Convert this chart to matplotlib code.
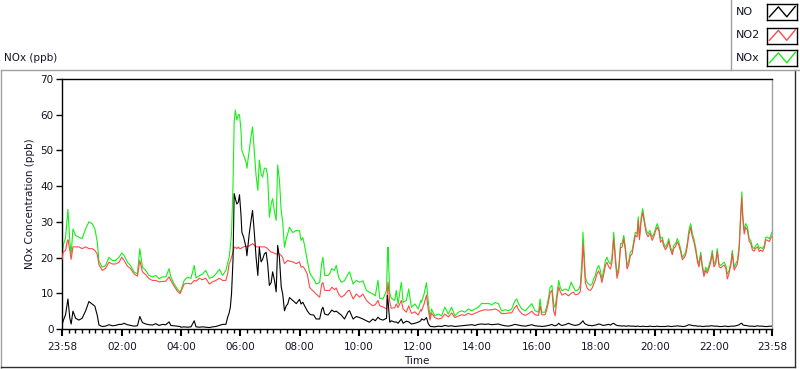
import matplotlib
matplotlib.use("Agg")
import matplotlib.pyplot as plt
from matplotlib.lines import Line2D

plt.rcParams['font.family'] = ['DejaVu Sans']

# hours elapsed since 23:58
hours = [
    0.00, 0.04, 0.12, 0.175, 0.20, 0.265, 0.31, 0.37, 0.46, 0.57, 0.68, 0.80, 0.91, 1.02, 1.11, 1.19, 1.25, 1.36, 1.47, 1.59, 1.70, 1.81, 1.93, 2.02, 2.10, 2.21, 2.32, 2.44, 2.55, 2.63, 2.72, 2.83, 2.94, 3.06, 3.17, 3.28, 3.40, 3.51, 3.62, 3.68, 3.79, 3.90, 3.99,
    4.02, 4.13, 4.24, 4.36, 4.47, 4.53, 4.64, 4.75, 4.86, 4.98, 5.09, 5.20, 5.32, 5.43, 5.54, 5.60, 5.65, 5.69, 5.73, 5.78, 5.82, 5.86, 5.91, 5.96, 6.00, 6.05, 6.08, 6.14, 6.22, 6.25, 6.33, 6.39, 6.44, 6.50, 6.56, 6.62, 6.67, 6.73, 6.78, 6.84, 6.90, 6.95, 7.01, 7.07, 7.12, 7.18, 7.24, 7.29, 7.35, 7.41, 7.46, 7.52, 7.58, 7.63, 7.69, 7.80, 7.92, 8.03,
    8.08, 8.14, 8.20, 8.29, 8.37, 8.42, 8.51, 8.59, 8.71, 8.78, 8.82, 8.88, 8.99, 9.05, 9.12, 9.21, 9.27, 9.35, 9.44, 9.55, 9.67, 9.72, 9.84, 9.95, 10.06, 10.17, 10.29, 10.39, 10.51, 10.59, 10.68, 10.74, 10.85, 10.97, 11.00, 11.02, 11.08, 11.13, 11.25, 11.30, 11.36, 11.47, 11.53, 11.64, 11.72, 11.81, 11.93, 12.04, 12.13,
    12.15, 12.24, 12.32, 12.38, 12.44, 12.49, 12.60, 12.72, 12.83, 12.94, 13.06, 13.17, 13.28, 13.40, 13.51, 13.62, 13.73, 13.85, 13.96, 14.07, 14.19, 14.30, 14.41, 14.53, 14.64, 14.75, 14.86, 14.98, 15.09, 15.20, 15.31, 15.37, 15.43, 15.54, 15.66, 15.77, 15.88, 15.99, 16.11, 16.16,
    16.22, 16.33, 16.39, 16.45, 16.50, 16.56, 16.62, 16.67, 16.73, 16.79, 16.84, 16.90, 17.01, 17.12, 17.21, 17.29, 17.35, 17.46, 17.52, 17.58, 17.61, 17.66, 17.69, 17.75, 17.80, 17.86, 17.92, 17.97, 18.03, 18.08, 18.14, 18.20, 18.25, 18.31, 18.37, 18.42, 18.48, 18.54, 18.59, 18.65, 18.71, 18.76, 18.82, 18.88, 18.93, 18.99, 19.05, 19.10, 19.16, 19.21, 19.27, 19.33, 19.38, 19.44, 19.48, 19.52, 19.58, 19.63, 19.69, 19.75, 19.81, 19.87, 19.95, 20.01, 20.06, 20.12, 20.18, 20.23, 20.29,
    20.34, 20.40, 20.46, 20.51, 20.57, 20.63, 20.68, 20.74, 20.80, 20.85, 20.91, 20.97, 21.02, 21.08, 21.14, 21.19, 21.25, 21.31, 21.36, 21.42, 21.48, 21.53, 21.59, 21.64, 21.70, 21.76, 21.81, 21.87, 21.93, 21.98, 22.04, 22.10, 22.15, 22.21, 22.27, 22.32, 22.38, 22.44, 22.49, 22.55, 22.61, 22.66, 22.72, 22.77, 22.83, 22.89, 22.94, 22.98, 23.01, 23.06, 23.11, 23.17, 23.23, 23.28, 23.34, 23.40, 23.45, 23.51, 23.57, 23.62, 23.68, 23.74, 23.79, 23.85, 23.91, 23.96, 24.00,
]

no = [
    1.0, 2.3, 4.0, 7.0, 8.4, 3.0, 1.4, 5.0, 3.0, 2.5, 3.0, 5.1, 7.7, 7.0, 6.4, 3.9, 1.1, 0.7, 0.8, 1.2, 0.9, 1.0, 1.3, 1.3, 1.6, 1.2, 1.0, 0.8, 0.9, 3.5, 1.8, 1.4, 1.2, 1.1, 1.5, 1.0, 1.3, 1.2, 2.0, 1.0, 0.9, 0.8, 0.7,
    0.5, 0.6, 0.5, 0.6, 2.3, 0.6, 0.5, 0.6, 0.5, 0.4, 0.6, 0.7, 1.0, 1.3, 1.3, 3.3, 4.5, 6.1, 9.8, 19.2, 37.9, 36.5, 35.0, 35.5, 37.6, 32.0, 27.1, 25.7, 22.9, 20.5, 26.7, 30.4, 33.2, 27.1, 20.1, 15.0, 22.9, 18.8, 19.5, 21.0, 21.5, 18.3, 12.2, 13.0, 16.0, 13.7, 10.4, 23.4, 20.0, 11.8, 9.8, 5.1, 6.5, 7.0, 8.8, 8.0, 7.1, 8.3,
    7.0, 7.5, 6.5, 5.1, 4.2, 4.0, 3.9, 2.8, 2.8, 5.5, 6.1, 4.2, 3.9, 4.5, 5.3, 4.8, 5.0, 4.5, 3.9, 2.8, 4.8, 5.1, 2.8, 3.5, 3.2, 2.8, 2.3, 1.9, 2.8, 2.3, 3.3, 2.8, 2.5, 3.0, 9.4, 8.0, 1.9, 2.3, 1.9, 2.0, 1.6, 2.8, 1.6, 2.2, 2.0, 1.4, 1.6, 1.9, 2.3,
    2.8, 2.5, 3.2, 1.5, 0.8, 0.7, 0.6, 0.8, 0.7, 1.0, 0.8, 0.9, 0.7, 0.8, 0.9, 1.0, 1.1, 1.2, 1.0, 1.3, 1.4, 1.3, 1.4, 1.2, 1.3, 1.4, 1.1, 0.9, 0.8, 1.0, 1.3, 1.2, 1.1, 0.9, 0.8, 1.0, 1.2, 0.9, 0.8, 0.8,
    0.7, 0.8, 0.9, 1.0, 1.1, 1.3, 1.0, 0.9, 1.1, 1.6, 1.2, 1.0, 1.2, 1.6, 1.3, 1.1, 1.0, 1.2, 1.5, 2.0, 2.3, 1.6, 1.4, 1.2, 1.0, 1.0, 0.9, 1.0, 1.1, 1.2, 1.4, 1.3, 1.1, 1.0, 1.1, 1.2, 1.3, 1.1, 1.4, 1.6, 1.2, 1.0, 0.9, 0.9, 0.8, 0.9, 0.8, 0.8, 0.9, 0.8, 0.8, 0.8, 0.7, 0.8, 0.8, 0.7, 0.7, 0.8, 0.7, 0.7, 0.7, 0.8, 0.7, 0.7, 0.7, 0.8, 0.7, 0.7, 0.7,
    0.7, 0.7, 0.8, 0.8, 0.7, 0.7, 0.8, 0.8, 0.9, 0.8, 0.8, 0.7, 0.7, 0.8, 1.0, 1.2, 1.1, 1.0, 0.9, 0.9, 0.8, 0.8, 0.8, 0.7, 0.7, 0.8, 0.8, 0.8, 0.9, 0.9, 0.8, 0.8, 0.8, 0.7, 0.7, 0.7, 0.8, 0.8, 0.7, 0.7, 0.8, 0.8, 0.8, 0.9, 1.0, 1.2, 1.5, 1.6, 1.2, 1.0, 1.0, 0.9, 0.8, 0.8, 0.8, 0.7, 0.8, 0.9, 0.8, 0.8, 0.8, 0.7, 0.7, 0.7, 0.8, 0.8, 0.8,
]

no2 = [
    19.5, 21.5, 22.0, 24.5, 25.0, 22.0, 19.5, 23.0, 23.0, 23.0, 22.5, 23.0, 22.5, 22.5, 22.0, 21.0, 18.0, 16.4, 17.0, 18.7, 18.2, 18.2, 18.7, 20.1, 19.2, 17.6, 16.9, 15.4, 14.8, 19.2, 16.0, 15.2, 14.1, 13.6, 13.6, 13.2, 13.3, 13.4, 14.6, 13.6, 12.0, 10.6, 9.9,
    10.5, 12.6, 12.8, 12.6, 13.6, 13.4, 14.2, 13.8, 14.2, 12.6, 13.2, 13.6, 14.2, 13.6, 13.6, 15.5, 18.3, 19.0, 20.1, 21.5, 22.9, 22.9, 22.5, 23.0, 22.5, 22.5, 22.8, 23.0, 23.2, 23.0, 23.3, 23.6, 23.9, 23.5, 23.0, 23.0, 23.0, 23.0, 23.0, 23.0, 22.8, 22.5, 22.0, 21.5, 21.5, 21.2, 21.0, 21.0, 21.0, 20.6, 20.0, 18.3, 18.8, 19.2, 19.0, 18.8, 18.3, 18.8,
    17.3, 17.5, 16.9, 15.4, 11.7, 11.2, 10.5, 9.8, 8.9, 12.6, 13.0, 10.8, 10.8, 10.8, 11.7, 11.0, 11.5, 9.8, 8.9, 9.5, 10.8, 10.8, 8.4, 9.8, 8.9, 9.8, 8.0, 7.2, 6.5, 6.8, 8.0, 6.5, 6.2, 5.6, 11.0, 13.1, 7.5, 5.8, 6.0, 7.0, 6.0, 8.0, 5.6, 4.7, 6.5, 4.4, 4.8, 3.9, 5.5,
    5.0, 7.0, 9.5, 5.5, 2.5, 4.5, 3.2, 2.8, 3.0, 4.2, 3.4, 4.5, 3.2, 3.6, 4.0, 3.8, 4.4, 4.0, 4.4, 4.8, 5.2, 5.4, 5.3, 5.4, 5.6, 5.2, 4.3, 4.3, 4.5, 4.5, 6.1, 6.6, 5.4, 4.3, 3.8, 4.3, 5.0, 4.0, 3.8, 6.5,
    4.0, 4.0, 5.5, 7.8, 10.2, 10.8, 5.0, 3.7, 8.5, 11.8, 10.5, 9.5, 10.0, 9.3, 10.0, 10.3, 9.6, 9.8, 10.5, 17.0, 24.0, 17.5, 13.0, 11.5, 11.0, 10.8, 11.5, 12.5, 13.8, 15.4, 16.3, 15.0, 13.0, 15.2, 17.8, 18.7, 17.4, 16.8, 18.6, 25.3, 18.6, 14.2, 16.2, 22.8, 22.9, 25.2, 21.5, 16.8, 18.1, 20.5, 21.0, 23.8, 26.2, 25.8, 30.4, 25.0, 30.5, 32.6, 29.5, 26.8, 25.8, 26.8, 24.8, 25.9, 27.4, 28.5, 27.4, 24.3, 25.0,
    23.2, 22.2, 23.1, 24.5, 22.2, 20.8, 22.6, 23.1, 24.4, 23.5, 21.7, 19.4, 19.9, 20.7, 23.3, 26.4, 28.4, 25.7, 24.4, 22.0, 18.8, 17.4, 20.7, 17.5, 14.7, 16.5, 15.6, 17.0, 18.7, 21.1, 17.4, 18.4, 21.7, 17.5, 17.1, 17.5, 17.9, 17.0, 14.0, 15.7, 17.9, 21.2, 16.5, 17.3, 18.2, 22.2, 30.8, 36.8, 31.1, 26.6, 28.5, 27.7, 24.5, 24.0, 22.1, 21.8, 22.6, 23.0, 21.7, 22.1, 21.7, 22.7, 25.0, 24.8, 24.5, 25.4, 26.0,
]

nox = [
    20.0, 23.4, 25.5, 31.0, 33.5, 24.5, 21.0, 28.0, 26.2, 25.7, 25.3, 28.1, 30.0, 29.5, 28.1, 24.5, 19.0, 17.3, 17.7, 20.1, 19.2, 19.2, 20.1, 21.3, 20.6, 18.7, 17.7, 15.9, 15.5, 22.5, 17.3, 16.4, 15.0, 14.6, 15.0, 14.1, 14.6, 14.6, 16.9, 14.6, 12.6, 11.2, 10.3,
    10.8, 13.6, 14.5, 14.2, 17.8, 14.3, 14.9, 15.4, 16.4, 14.2, 14.5, 15.4, 16.7, 15.0, 16.4, 18.5, 20.1, 23.0, 26.7, 40.0, 58.0, 61.3, 58.5, 60.0, 60.0, 55.7, 50.0, 48.6, 46.8, 45.0, 50.0, 54.0, 56.6, 50.0, 43.0, 38.8, 47.3, 43.5, 42.5, 45.0, 45.0, 43.0, 31.3, 35.0, 36.5, 33.0, 30.4, 45.9, 41.7, 33.0, 30.0, 22.9, 25.3, 26.7, 28.5, 27.0, 27.6, 27.5,
    24.8, 25.6, 23.4, 19.2, 15.9, 15.0, 14.0, 12.6, 13.0, 18.5, 20.1, 15.0, 15.0, 15.5, 16.9, 16.4, 17.8, 14.5, 13.1, 13.5, 15.4, 16.0, 12.6, 13.6, 13.1, 13.5, 10.8, 10.3, 9.8, 9.3, 13.6, 8.6, 8.4, 10.8, 20.0, 22.9, 10.0, 8.6, 8.0, 10.8, 7.0, 13.1, 7.5, 8.0, 11.2, 6.1, 7.0, 5.6, 8.0,
    7.5, 9.8, 13.0, 7.9, 3.3, 5.6, 3.7, 4.2, 3.7, 6.1, 4.2, 6.1, 3.7, 4.7, 5.1, 4.7, 5.6, 5.1, 5.6, 6.1, 7.2, 7.1, 7.2, 6.8, 7.4, 7.1, 5.1, 5.4, 5.1, 5.6, 7.9, 8.4, 7.1, 5.6, 5.1, 6.1, 7.1, 5.1, 4.7, 8.4,
    4.7, 4.7, 6.5, 8.9, 11.7, 12.2, 7.0, 6.0, 9.8, 13.6, 11.7, 10.7, 11.2, 10.7, 13.1, 11.7, 10.7, 11.0, 12.2, 20.1, 27.1, 20.1, 14.5, 13.0, 12.6, 12.2, 12.6, 14.0, 15.0, 16.8, 17.8, 16.4, 14.0, 16.4, 19.2, 20.1, 18.7, 18.2, 20.1, 27.1, 20.1, 15.4, 17.3, 23.9, 23.9, 26.2, 22.5, 17.8, 19.2, 21.5, 22.0, 24.8, 27.1, 26.7, 31.4, 25.7, 31.4, 33.7, 30.4, 27.6, 26.7, 27.6, 25.7, 26.7, 28.1, 29.5, 28.1, 25.3, 25.7,
    24.0, 22.9, 23.9, 25.3, 22.9, 21.5, 23.4, 23.9, 25.3, 24.3, 22.5, 20.1, 20.6, 21.5, 24.3, 27.6, 29.5, 26.7, 25.3, 22.9, 19.6, 18.2, 21.5, 18.2, 15.4, 17.3, 16.4, 17.8, 19.6, 22.0, 18.2, 19.2, 22.5, 18.2, 17.8, 18.2, 18.7, 17.8, 15.4, 16.4, 18.7, 22.0, 17.3, 18.2, 19.2, 23.4, 32.3, 38.4, 32.3, 27.6, 29.5, 28.6, 25.3, 24.8, 22.9, 22.5, 23.4, 23.9, 22.5, 22.9, 22.5, 23.4, 25.7, 25.7, 25.3, 26.2, 27.1,
]

assert len(hours) == len(no) == len(no2) == len(nox)

series_names = ["NO", "NO2", "NOx"]
series_colors = ["#000000", "#ff4a4a", "#14f014"]

tick_labels = ["23:58", "02:00", "04:00", "06:00", "08:00", "10:00", "12:00",
               "14:00", "16:00", "18:00", "20:00", "22:00", "23:58"]
first_even = 2 + 2 / 60.0
major_pos = [0.0] + [first_even + 2 * k for k in range(11)] + [24.0]
y_ticks = [0, 10, 20, 30, 40, 50, 60, 70]

W, H = 800, 369
fig = plt.figure(figsize=(W / 100, H / 100), dpi=100)
fig.patch.set_facecolor("white")


def fx(x):
    return x / W


def fy(y):
    return 1 - y / H


ax = fig.add_axes([fx(62), fy(329), fx(772) - fx(62), fy(79) - fy(329)])
ax.plot(hours, nox, color=series_colors[2], lw=0.8, zorder=2)
ax.plot(hours, no2, color=series_colors[1], lw=0.8, zorder=3)
ax.plot(hours, no, color=series_colors[0], lw=0.8, zorder=4)

ax.set_xlim(0, 24)
ax.set_ylim(0, 70)
ax.set_xticks(major_pos)
ax.set_xticklabels(tick_labels)
minor = []
for a, b in zip(major_pos[:-1], major_pos[1:]):
    minor += [a + (b - a) * i / 9 for i in range(1, 9)]
ax.set_xticks(minor, minor=True)
ax.set_yticks(y_ticks)

tc = "#141428"
ax.tick_params(axis="both", which="major", direction="out", length=4, width=1,
               colors="black", labelcolor=tc, labelsize=7.5, pad=2)
ax.tick_params(axis="x", which="major", width=1.5, length=5, pad=4)
ax.tick_params(axis="x", which="minor", direction="out", length=3, width=1, colors="black")
ax.spines["left"].set_color("black")
ax.spines["bottom"].set_color("black")
ax.spines["top"].set_color("black")
ax.spines["right"].set_color("#a0a0a0")
for s in ax.spines.values():
    s.set_linewidth(1.0)

ax.set_ylabel("NOx Concentration (ppb)", fontsize=7.5, color=tc, labelpad=4)
ax.set_xlabel("Time", fontsize=7.5, color=tc, labelpad=3)

# outer frame
fig.add_artist(Line2D([fx(0.5), fx(730)], [fy(69.5), fy(69.5)], color="#a0a0a0", lw=1))
fig.add_artist(Line2D([fx(1), fx(1)], [fy(69.5), fy(368)], color="#a0a0a0", lw=1))
fig.add_artist(Line2D([fx(795), fx(795)], [fy(69.5), fy(367)], color="#303030", lw=1))
fig.add_artist(Line2D([fx(1), fx(795)], [fy(367), fy(367)], color="#303030", lw=1))
# legend box border
fig.add_artist(Line2D([fx(730.5), fx(730.5)], [fy(0), fy(69.5)], color="#a0a0a0", lw=1))
fig.add_artist(Line2D([fx(730.5), fx(800)], [fy(69.5), fy(69.5)], color="#a0a0a0", lw=1))

fig.text(fx(4), fy(58), "NOx (ppb)", fontsize=7.5, color=tc, ha="left", va="center")

legend_y = [12, 35.5, 58]
for name, col, cy in zip(series_names, series_colors, legend_y):
    fig.text(fx(736), fy(cy), name, fontsize=8, color=tc, ha="left", va="center")
    sw = fig.add_axes([fx(767), fy(cy + 8), fx(797) - fx(767), fy(cy - 8) - fy(cy + 8)])
    sw.set_xlim(0, 1)
    sw.set_ylim(0, 1)
    sw.plot([0.08, 0.38, 0.66, 0.94], [0.2, 0.82, 0.2, 0.85], color=col, lw=1.0)
    sw.set_xticks([])
    sw.set_yticks([])
    for s in sw.spines.values():
        s.set_color("black")
        s.set_linewidth(1.0)

fig.savefig("out.png", dpi=100, facecolor="white")
